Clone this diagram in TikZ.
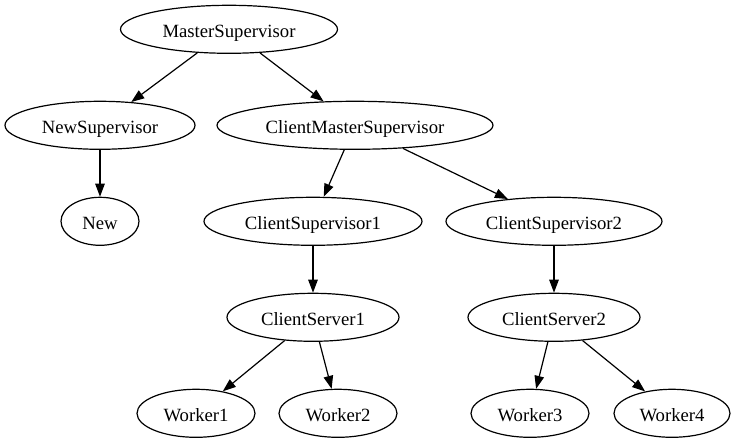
\documentclass[tikz,border=0pt]{standalone}
\usepackage{fontspec}
\setmainfont{Liberation Serif}
\usetikzlibrary{shapes.geometric,arrows.meta}
\tikzset{
  gnode/.style={draw, ellipse, line width=1.2pt, inner sep=0pt, minimum height=48pt,
    font=\fontsize{18.7}{20}\selectfont, text height=17pt, text depth=0pt},
  gedge/.style={line width=1.2pt, -{Triangle[length=13pt,width=9.5pt]}}
}
\begin{document}
\begin{tikzpicture}[x=1pt,y=-1pt]
\useasboundingbox (0,0) rectangle (737,443);
\node[gnode, minimum width=217pt] (ms) at (229,29.3) {MasterSupervisor};
\node[gnode, minimum width=190pt] (ns) at (100,125.3) {NewSupervisor};
\node[gnode, minimum width=276pt] (cms) at (355,125.3) {ClientMasterSupervisor};
\node[gnode, minimum width=78pt] (new) at (100,221.3) {New};
\node[gnode, minimum width=218pt] (cs1) at (313,221.3) {ClientSupervisor1};
\node[gnode, minimum width=216pt] (cs2) at (554,221.3) {ClientSupervisor2};
\node[gnode, minimum width=172pt] (sv1) at (313,317.3) {ClientServer1};
\node[gnode, minimum width=172pt] (sv2) at (554,317.3) {ClientServer2};
\node[gnode, minimum width=118pt] (w1) at (196,413.3) {Worker1};
\node[gnode, minimum width=118pt] (w2) at (338,413.3) {Worker2};
\node[gnode, minimum width=118pt] (w3) at (530,413.3) {Worker3};
\node[gnode, minimum width=116pt] (w4) at (672,413.3) {Worker4};
\draw[gedge] (ms) -- (ns);
\draw[gedge] (ms) -- (cms);
\draw[gedge] (ns) -- (new);
\draw[gedge] (cms) -- (cs1);
\draw[gedge] (cms) -- (cs2);
\draw[gedge] (cs1) -- (sv1);
\draw[gedge] (cs2) -- (sv2);
\draw[gedge] (sv1) -- (w1);
\draw[gedge] (sv1) -- (w2);
\draw[gedge] (sv2) -- (w3);
\draw[gedge] (sv2) -- (w4);
\end{tikzpicture}
\end{document}
